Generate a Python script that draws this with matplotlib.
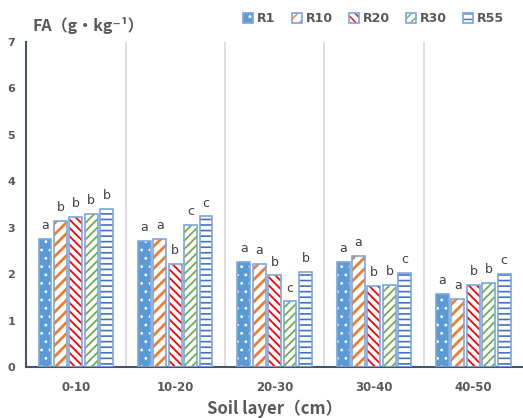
import matplotlib
matplotlib.use('Agg')
import matplotlib.pyplot as plt
import numpy as np

layers = ['0-10', '10-20', '20-30', '30-40', '40-50']
series = ['R1', 'R10', 'R20', 'R30', 'R55']
R1 = [2.75, 2.72, 2.26, 2.26, 1.57]
R10 = [3.15, 2.76, 2.22, 2.38, 1.47]
R20 = [3.22, 2.22, 1.97, 1.74, 1.77]
R30 = [3.30, 3.06, 1.41, 1.76, 1.80]
R55 = [3.40, 3.24, 2.05, 2.03, 2.00]
letters = [
    ['a', 'a', 'a', 'a', 'a'],
    ['b', 'a', 'a', 'a', 'a'],
    ['b', 'b', 'b', 'b', 'b'],
    ['b', 'c', 'c', 'b', 'b'],
    ['b', 'c', 'b', 'c', 'c'],
]
values = [R1, R10, R20, R30, R55]

# estilo de cada serie: (relleno, color de trama, trama, grosor)
styles = [
    ('#5B9BD5', 'white', '..', 0.8),
    ('white', '#ED7D31', '///', 2.0),
    ('white', '#FF0000', '\\\\\\\\', 1.3),
    ('white', '#70AD47', '////', 1.3),
    ('white', '#4472C4', '---', 1.2),
]
outline = '#7EA6DC'
grey = '#595959'

fig = plt.figure(figsize=(5.23, 4.18), dpi=100)
ax = fig.add_axes([0.05, 0.122, 0.95, 0.778])

x = np.arange(len(layers))
step = 0.155
width = 0.13
handles = []
for i, vals in enumerate(values):
    face, hcol, hatch, hlw = styles[i]
    pos = x + (i - 2) * step
    plt.rcParams['hatch.linewidth'] = hlw
    b1 = ax.bar(pos, vals, width, color=face, edgecolor=hcol, hatch=hatch, linewidth=0, zorder=2)
    b2 = ax.bar(pos, vals, width, fill=False, edgecolor=outline, linewidth=1.2, zorder=3)
    handles.append((b1[0], b2[0]))
    for p, v, t in zip(pos, vals, letters[i]):
        ax.annotate(t, (p, v), xytext=(0, 5), textcoords='offset points',
                    ha='center', va='bottom', fontsize=9, color='#404040')

for b in [0.5, 1.5, 2.5, 3.5]:
    ax.axvline(b, color='#D9D9D9', linewidth=1.2, zorder=1)

ax.set_xlim(-0.5, 4.5)
ax.set_ylim(0, 7)
ax.set_yticks(range(8))
ax.set_xticks(x)
ax.set_xticklabels(layers, fontsize=8.5, fontweight='bold', color=grey)
for lab in ax.get_yticklabels():
    lab.set_fontsize(8)
    lab.set_fontweight('bold')
    lab.set_color(grey)
ax.tick_params(axis='both', length=0)
ax.tick_params(axis='x', pad=10)
ax.tick_params(axis='y', pad=8)
for s in ['top', 'right']:
    ax.spines[s].set_visible(False)
for s in ['left', 'bottom']:
    ax.spines[s].set_color('#44546A')
    ax.spines[s].set_linewidth(1.5)

ax.set_xlabel('Soil layer（cm）', fontsize=12, fontweight='bold', color=grey,
              family=['Noto Sans CJK SC', 'DejaVu Sans'], labelpad=4)
fig.text(0.063, 0.94, 'FA（g·kg\u207b\u00b9）', fontsize=11.5, fontweight='bold', color=grey,
         family=['Noto Sans CJK SC', 'DejaVu Sans'], va='center')

plt.rcParams['hatch.linewidth'] = 1.0
leg = fig.legend(handles=handles, labels=series, loc='center right', bbox_to_anchor=(0.985, 0.955),
                 ncol=5, frameon=False, handlelength=0.8, handleheight=0.8, handletextpad=0.3,
                 columnspacing=1.3, prop={'weight': 'bold', 'size': 9})
for t in leg.get_texts():
    t.set_color(grey)

fig.savefig('out.png', dpi=100)
